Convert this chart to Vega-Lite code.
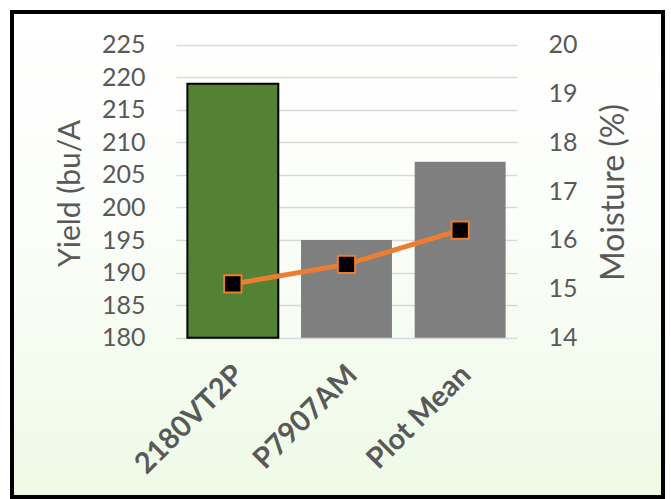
{
  "$schema": "https://vega.github.io/schema/vega-lite/v6.json",
  "width": 651,
  "height": 485,
  "autosize": {"type": "none"},
  "padding": {"left": 12, "top": 12, "right": 8, "bottom": 2},
  "background": "#ffffff",
  "config": {
    "view": {
      "stroke": "#000000",
      "strokeWidth": 4,
      "fill": {"gradient": "linear", "x1": 0, "y1": 0, "x2": 0, "y2": 1,
        "stops": [{"offset": 0, "color": "#ffffff"}, {"offset": 0.4, "color": "#fcfefb"}, {"offset": 1, "color": "#eefae6"}]}
    },
    "axis": {"labelColor": "#595959", "titleColor": "#595959", "labelFont": "Lato", "titleFont": "Lato", "titleFontWeight": "normal", "ticks": false}
  },
  "data": {"values": [
    {"variety": "2180VT2P", "yield": 219, "moisture": 15.1},
    {"variety": "P7907AM", "yield": 195, "moisture": 15.5},
    {"variety": "Plot Mean", "yield": 207, "moisture": 16.2}
  ]},
  "encoding": {
    "x": {"field": "variety", "type": "nominal", "sort": null,
      "scale": {"range": [164, 505], "paddingInner": 0.2, "paddingOuter": 0.1},
      "axis": {"title": null, "offset": -159.3, "domain": false, "labelAngle": -45, "labelAlign": "right", "labelBaseline": "middle",
        "labelFont": "Lato", "labelFontWeight": "bold", "labelFontSize": 29, "labelPadding": 32, "labelOffset": 6}}
  },
  "layer": [
    {
      "mark": {"type": "bar", "strokeWidth": 2},
      "encoding": {
        "y": {"field": "yield", "type": "quantitative",
          "scale": {"domain": [155.55, 230], "nice": false, "zero": false},
          "axis": {"title": "Yield (bu/A", "offset": -164, "domain": false, "grid": true, "gridColor": "#d9d9d9", "gridWidth": 1.5,
            "values": [180, 185, 190, 195, 200, 205, 210, 215, 220, 225],
            "labelFontSize": 25, "labelPadding": 31, "titleFontSize": 30, "titleAngle": -90, "titleX": -106, "titleY": 181,
            "titleAlign": "center", "titleBaseline": "middle"}},
        "y2": {"datum": 180},
        "color": {"field": "variety", "type": "nominal", "legend": null,
          "scale": {"domain": ["2180VT2P", "P7907AM", "Plot Mean"], "range": ["#548235", "#7f7f7f", "#7f7f7f"]}},
        "stroke": {"condition": {"test": "datum.variety === '2180VT2P'", "value": "#000000"}, "value": null}
      }
    },
    {
      "encoding": {
        "y": {"field": "moisture", "type": "quantitative",
          "scale": {"domain": [10.74, 20.665], "nice": false, "zero": false},
          "axis": {"title": "Moisture (%)", "orient": "right", "offset": -146, "domain": false, "grid": false,
            "values": [14, 15, 16, 17, 18, 19, 20],
            "labelFontSize": 25, "labelPadding": 31, "titleFontSize": 32, "titleAngle": -90, "titleX": 96, "titleY": 180,
            "titleAlign": "center", "titleBaseline": "middle"}}
      },
      "layer": [
        {"mark": {"type": "line", "color": "#ED7D31", "strokeWidth": 5}},
        {"mark": {"type": "point", "shape": "square", "filled": true, "fill": "#000000", "stroke": "#ED7D31", "strokeWidth": 2, "size": 300, "opacity": 1}}
      ]
    }
  ],
  "resolve": {"scale": {"y": "independent"}}
}
